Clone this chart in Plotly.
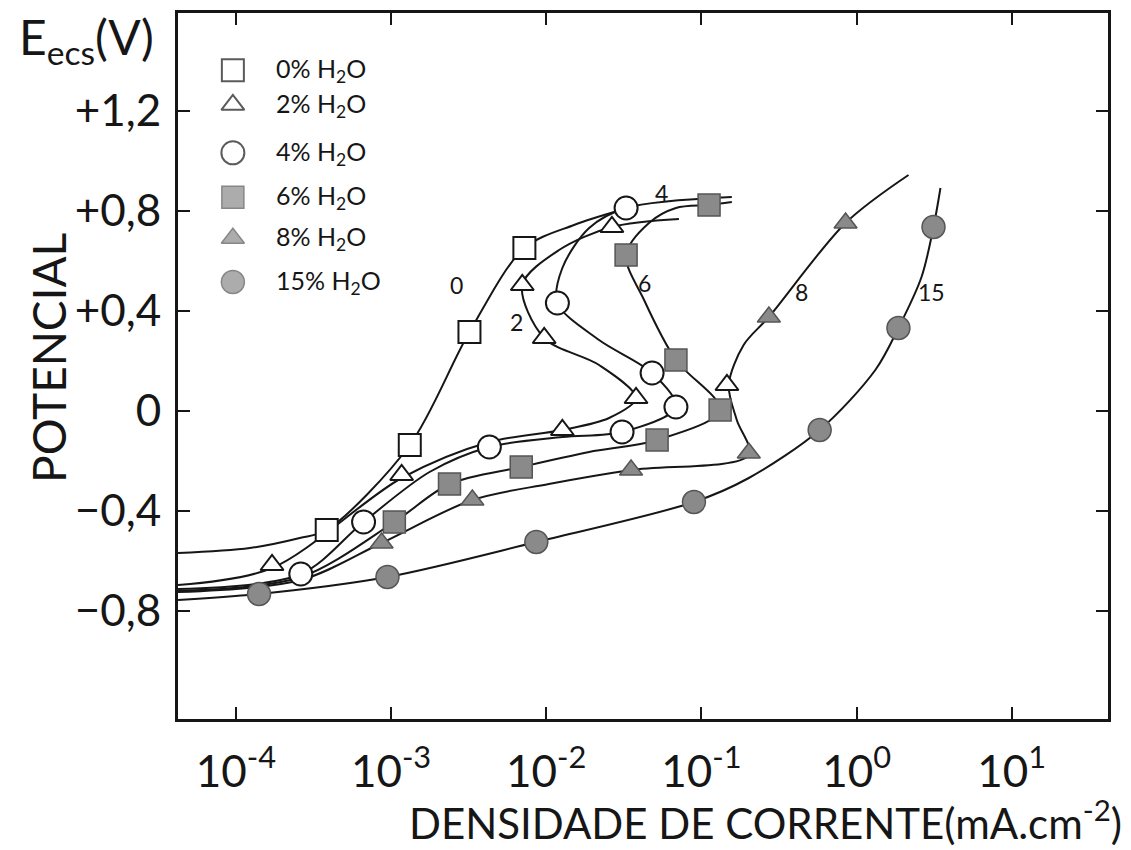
import plotly.graph_objects as go

# Anodic polarization of the alloy in ethanol / water mixtures
# current density in mA.cm^-2, potential in V vs. SCE

# --- measured points -------------------------------------------------------
i_0 = [3.85e-4, 1.32e-3, 3.20e-3, 7.23e-3]
e_0 = [-0.476, -0.136, 0.316, 0.652]

i_2 = [1.71e-4, 1.17e-3, 1.27e-2, 3.79e-2, 9.70e-3, 7.01e-3, 2.65e-2, 0.146]
e_2 = [-0.616, -0.256, -0.076, 0.052, 0.292, 0.504, 0.736, 0.104]

i_4 = [2.62e-4, 6.65e-4, 4.30e-3, 3.08e-2, 6.85e-2, 4.81e-2, 1.18e-2, 3.27e-2]
e_4 = [-0.652, -0.444, -0.144, -0.084, 0.016, 0.152, 0.432, 0.812]

i_6 = [1.05e-3, 2.38e-3, 6.90e-3, 5.18e-2, 0.132, 6.85e-2, 3.27e-2, 0.112]
e_6 = [-0.444, -0.292, -0.224, -0.116, 0.004, 0.204, 0.624, 0.824]

i_8 = [8.69e-4, 3.34e-3, 3.52e-2, 0.202, 0.272, 0.849]
e_8 = [-0.528, -0.356, -0.236, -0.168, 0.376, 0.752]

i_15 = [1.41e-4, 9.48e-4, 8.63e-3, 8.95e-2, 0.578, 1.86, 3.13]
e_15 = [-0.732, -0.664, -0.524, -0.364, -0.076, 0.332, 0.736]

# --- hand-fitted polarization curves --------------------------------------
ci_0 = [4.24e-5, 1.23e-4, 2.58e-4, 3.85e-4, 1.32e-3, 3.20e-3, 7.23e-3, 1.51e-2, 3.03e-2]
ce_0 = [-0.568, -0.548, -0.508, -0.476, -0.136, 0.316, 0.652, 0.744, 0.804]

ci_2 = [4.24e-5, 1.71e-4, 1.17e-3, 4.30e-3, 1.27e-2, 2.54e-2, 3.79e-2, 2.19e-2,
        9.70e-3, 7.01e-3, 1.21e-2, 2.65e-2, 7.16e-2]
ce_2 = [-0.696, -0.628, -0.268, -0.124, -0.076, -0.028, 0.052, 0.184,
        0.292, 0.504, 0.644, 0.736, 0.768]

ci_4 = [4.24e-5, 2.62e-4, 6.65e-4, 1.77e-3, 4.30e-3, 1.27e-2, 3.08e-2, 6.85e-2,
        4.81e-2, 2.19e-2, 1.18e-2, 1.27e-2, 1.89e-2, 3.27e-2, 0.157]
ce_4 = [-0.712, -0.652, -0.444, -0.244, -0.144, -0.104, -0.084, 0.016,
        0.152, 0.284, 0.432, 0.572, 0.732, 0.812, 0.856]

ci_6 = [4.24e-5, 2.62e-4, 1.05e-3, 2.38e-3, 6.90e-3, 1.89e-2, 5.18e-2, 0.132,
        6.85e-2, 4.27e-2, 3.27e-2, 4.59e-2, 6.85e-2, 0.112, 0.157]
ce_6 = [-0.720, -0.664, -0.444, -0.292, -0.224, -0.164, -0.116, 0.004,
        0.204, 0.444, 0.624, 0.752, 0.812, 0.824, 0.836]

ci_8 = [4.24e-5, 2.62e-4, 8.69e-4, 3.34e-3, 1.04e-2, 3.52e-2, 0.202, 0.169,
        0.150, 0.187, 0.272, 0.849, 2.16]
ce_8 = [-0.724, -0.676, -0.528, -0.356, -0.292, -0.236, -0.176, -0.036,
        0.104, 0.264, 0.376, 0.752, 0.944]

ci_15 = [4.24e-5, 1.41e-4, 9.48e-4, 8.63e-3, 8.95e-2, 0.202, 0.578, 1.32,
         1.86, 2.62, 3.13, 3.47]
ce_15 = [-0.756, -0.732, -0.664, -0.524, -0.364, -0.268, -0.076, 0.164,
         0.332, 0.536, 0.736, 0.892]

# curve tags written next to each curve (log10 of current, potential)
tag_text = ["0", "2", "4", "6", "8", "15"]
tag_logi = [-2.579, -2.193, -1.260, -1.370, -0.354, 0.482]
tag_e = [0.504, 0.356, 0.872, 0.512, 0.476, 0.476]

legend_names = ["0% H<sub>2</sub>O", "2% H<sub>2</sub>O", "4% H<sub>2</sub>O",
                "6% H<sub>2</sub>O", "8% H<sub>2</sub>O", "15% H<sub>2</sub>O"]

x_ticks = [1e-4, 1e-3, 1e-2, 1e-1, 1e0, 1e1]
x_ticktext = ["10<sup>-4</sup>", "10<sup>-3</sup>", "10<sup>-2</sup>",
              "10<sup>-1</sup>", "10<sup>0</sup>", "10<sup>1</sup>"]
y_ticks = [1.2, 0.8, 0.4, 0.0, -0.4, -0.8]
y_ticktext = ["+1,2", "+0,8", "+0,4", "0", "−0,4", "−0,8"]

INK = "#161616"
GREY = "#8a8a8a"
GREY_EDGE = "#555555"
FONT = "Lato"

styles = [
    dict(symbol="square", size=22, color="white", line=dict(color=INK, width=2)),
    dict(symbol="triangle-up", size=20, color="white", line=dict(color=INK, width=2)),
    dict(symbol="circle", size=23, color="white", line=dict(color=INK, width=2)),
    dict(symbol="square", size=22, color=GREY, line=dict(color=GREY_EDGE, width=1.5)),
    dict(symbol="triangle-up", size=20, color=GREY, line=dict(color=GREY_EDGE, width=1.5)),
    dict(symbol="circle", size=23, color=GREY, line=dict(color=GREY_EDGE, width=1.5)),
]

curves = [(ci_0, ce_0), (ci_2, ce_2), (ci_4, ce_4), (ci_6, ce_6), (ci_8, ce_8), (ci_15, ce_15)]
points = [(i_0, e_0), (i_2, e_2), (i_4, e_4), (i_6, e_6), (i_8, e_8), (i_15, e_15)]

fig = go.Figure()

for cx, cy in curves:
    fig.add_trace(go.Scatter(
        x=cx, y=cy, mode="lines",
        line=dict(color=INK, width=2, shape="spline", smoothing=0.9),
        hoverinfo="skip", showlegend=False))

for (px, py), st, name in zip(points, styles, legend_names):
    fig.add_trace(go.Scatter(
        x=px, y=py, mode="markers", name=name, marker=st, showlegend=False))

# key in the upper-left corner, drawn on a unit overlay axis
key_x = 0.059
key_text_x = 0.1035
key_y = [0.919, 0.870, 0.802, 0.739, 0.681, 0.619]
fig.add_trace(go.Scatter(
    x=[key_x] * 6, y=key_y, mode="markers", xaxis="x2", yaxis="y2",
    marker=dict(symbol=[s["symbol"] for s in styles],
                size=[s["size"] for s in styles],
                color=[s["color"] for s in styles],
                line=dict(color=[s["line"]["color"] for s in styles],
                          width=[s["line"]["width"] for s in styles])),
    hoverinfo="skip", showlegend=False))

annotations = []
for name, ky in zip(legend_names, key_y):
    annotations.append(dict(
        x=key_text_x, y=ky, xref="paper", yref="paper", text=name,
        showarrow=False, xanchor="left", yanchor="middle",
        font=dict(family=FONT, size=25, color=INK)))

for t, lx, ly in zip(tag_text, tag_logi, tag_e):
    annotations.append(dict(
        x=lx, y=ly, xref="x", yref="y", text=t, showarrow=False,
        font=dict(family=FONT, size=23, color=INK)))

annotations += [
    dict(x=1.017, y=-0.143, xref="paper", yref="paper",
         text="DENSIDADE DE CORRENTE(mA.cm<sup>-2</sup>)", showarrow=False,
         xanchor="right", yanchor="middle",
         font=dict(family=FONT, size=42, color=INK)),
    dict(x=-0.139, y=0.511, xref="paper", yref="paper", text="POTENCIAL",
         textangle=-90, showarrow=False, xanchor="center", yanchor="middle",
         font=dict(family=FONT, size=46, color=INK)),
    dict(x=-0.098, y=0.962, xref="paper", yref="paper",
         text="E<sub>ecs</sub>(V)", showarrow=False,
         xanchor="center", yanchor="middle",
         font=dict(family=FONT, size=48, color=INK)),
]

axis_common = dict(
    showline=True, linewidth=3, linecolor=INK, mirror="ticks",
    ticks="inside", ticklen=12, tickwidth=2, tickcolor=INK,
    showgrid=False, zeroline=False, automargin=False,
)

fig.update_layout(
    width=1131, height=850,
    margin=dict(l=178, r=23, t=13, b=131),
    paper_bgcolor="white", plot_bgcolor="white",
    showlegend=False,
    font=dict(family=FONT, color=INK),
    xaxis=dict(type="log", range=[-4.373, 1.62],
               tickvals=x_ticks, ticktext=x_ticktext,
               tickfont=dict(family=FONT, size=44, color=INK),
               ticklabelstandoff=12, **axis_common),
    yaxis=dict(range=[-1.232, 1.592],
               tickvals=y_ticks, ticktext=y_ticktext,
               tickfont=dict(family=FONT, size=44, color=INK),
               ticklabelstandoff=5, **axis_common),
    xaxis2=dict(overlaying="x", range=[0, 1], visible=False, anchor="y2"),
    yaxis2=dict(overlaying="y", range=[0, 1], visible=False, anchor="x2"),
    annotations=annotations,
)

fig.write_html("out.html")
